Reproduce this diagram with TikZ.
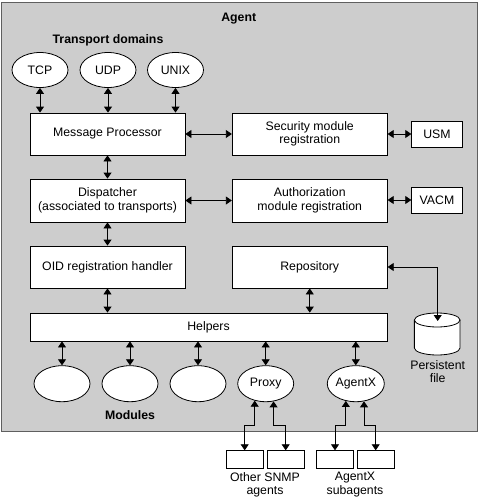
\documentclass[tikz,border=0pt]{standalone}
\usepackage{fontspec}
\setmainfont{Liberation Sans}
\usetikzlibrary{arrows.meta,shapes.geometric}
\definecolor{agentgray}{RGB}{205,205,205}
\definecolor{framegray}{RGB}{95,95,95}
\tikzset{
  box/.style={draw, fill=white, minimum width=155pt, minimum height=42pt, inner sep=0pt, align=center},
  oval/.style={draw, fill=white, ellipse, minimum width=56pt, minimum height=35pt, inner sep=0pt},
  smallbox/.style={draw, fill=white, inner sep=0pt, minimum width=50.6pt, minimum height=26pt},
  subbox/.style={draw, fill=white, inner sep=0pt, minimum width=36.7pt, minimum height=17.6pt},
  link/.style={{Triangle[length=6pt,width=8pt]}-{Triangle[length=6pt,width=8pt]}},
  lbl/.style={font=\fontsize{12.3}{13.5}\selectfont\bfseries, inner sep=0pt},
  txt/.style={align=center, inner sep=0pt}
}
\begin{document}
\begin{tikzpicture}[x=1pt, y=-1pt, line width=0.8pt, font=\fontsize{12.3}{13.5}\selectfont]
\useasboundingbox (0,0) rectangle (479,501);
% agent frame
\draw[framegray, fill=agentgray, line width=1pt] (1,2) rectangle (477,431.7);
\node[lbl] (agentlbl) at (238.7,19) {Agent};
\node[lbl] (tdlbl) at (108,40) {Transport domains};
% transports
\node[oval] (tcp) at (40,70) {TCP};
\node[oval] (udp) at (108,70) {UDP};
\node[oval] (unix) at (175.5,70) {UNIX};
% main boxes
\node[box] (mp) at (107.5,134) {Message Processor};
\node[box, minimum height=43pt] (disp) at (107.5,200.5) {Dispatcher\\(associated to transports)};
\node[box] (oid) at (107.5,267) {OID registration handler};
\node[box] (sec) at (309.75,134) {Security module\\registration};
\node[box, minimum height=43pt] (auth) at (309.75,200.5) {Authorization\\module registration};
\node[box] (repo) at (309.75,267) {Repository};
\node[smallbox] (usm) at (437,134) {USM};
\node[smallbox] (vacm) at (437,200) {VACM};
\node[draw, fill=white, inner sep=0pt, minimum width=357pt, minimum height=28pt] (helpers) at (208.5,327) {Helpers};
% modules
\node[oval, minimum height=36pt] (m1) at (62,383.7) {};
\node[oval, minimum height=36pt] (m2) at (130,383.7) {};
\node[oval, minimum height=36pt] (m3) at (198,383.7) {};
\node[oval, minimum height=36pt] (proxy) at (265.7,383.7) {Proxy};
\node[oval, minimum height=36pt, minimum width=57pt] (agentx) at (355.8,383.7) {AgentX};
\node[lbl] (modlbl) at (130,415) {Modules};
% persistent file (cylinder)
\draw[fill=white] (414.35,320) -- (414.35,348) arc[start angle=180, end angle=360, x radius=22.85pt, y radius=7pt] -- (460.05,320);
\draw[fill=white] (437.2,320) ellipse [x radius=22.85pt, y radius=7pt];
\coordinate (cyltop) at (437.7,321);
\node[txt] (pflbl) at (437.7,371.5) {Persistent\\file};
% external boxes
\node[subbox, minimum width=37.3pt] (b1) at (244.7,459.5) {};
\node[subbox] (b2) at (285.7,459.5) {};
\node[subbox, minimum width=36.6pt] (b3) at (335,459.5) {};
\node[subbox] (b4) at (375.7,459.5) {};
\node[txt] (snmplbl) at (265,484.7) {Other SNMP\\agents};
\node[txt] (sublbl) at (355,484.7) {AgentX\\subagents};
\coordinate (bend) at (0,425.7);
% connectors
\draw[link] (tcp.south) -- (tcp.south |- mp.north);
\draw[link] (udp.south) -- (udp.south |- mp.north);
\draw[link] (unix.south) -- (unix.south |- mp.north);
\draw[link] (mp.south) -- (disp.north);
\draw[link] (disp.south) -- (oid.north);
\draw[link] (oid.south) -- (oid.south |- helpers.north);
\draw[link] (repo.south) -- (repo.south |- helpers.north);
\draw[link] (mp.east) -- (sec.west);
\draw[link] (disp.east) -- (auth.west);
\draw[link] (sec.east) -- (usm.west);
\draw[link] (auth.east |- vacm.west) -- (vacm.west);
\draw[link] (repo.east) -| (cyltop);
\draw[link] (m1.north) -- (m1.north |- helpers.south);
\draw[link] (m2.north) -- (m2.north |- helpers.south);
\draw[link] (m3.north) -- (m3.north |- helpers.south);
\draw[link] (proxy.north) -- (proxy.north |- helpers.south);
\draw[link] (agentx.north) -- (agentx.north |- helpers.south);
\draw[link] (proxy.237) -- (proxy.237 |- bend) -| (b1.north);
\draw[link] (proxy.294) -- (proxy.294 |- bend) -| (b2.north);
\draw[link] (agentx.240) -- (agentx.240 |- bend) -| (b3.north);
\draw[link] (agentx.295) -- (agentx.295 |- bend) -| (b4.north);
\end{tikzpicture}
\end{document}
